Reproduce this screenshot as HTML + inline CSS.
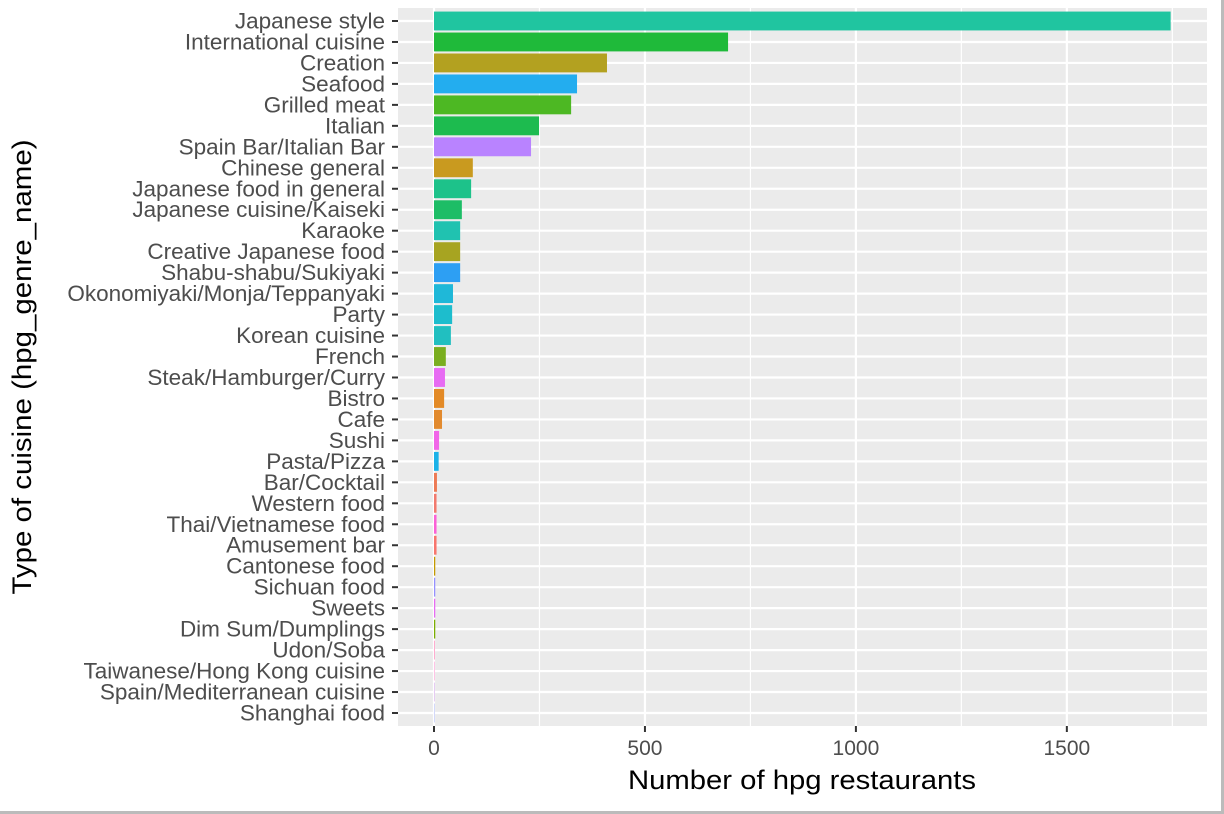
<!DOCTYPE html>
<html><head><meta charset="utf-8"><style>
body{margin:0;background:#fff;}
svg{display:block;font-family:"Liberation Sans",sans-serif;}
</style></head><body>
<svg id="chart" width="1224" height="814">
<rect x="0" y="0" width="1224" height="814" fill="#fff"/>
<line x1="1222.5" y1="0" x2="1222.5" y2="814" stroke="#bbb" stroke-width="3"/>
<line x1="0" y1="812.5" x2="1224" y2="812.5" stroke="#bbb" stroke-width="3"/>
<rect x="398" y="8" width="809" height="718" fill="#EBEBEB"/>
<g id="grid"></g><g id="bars"></g><g id="yaxis"></g><g id="xaxis"></g>
<text x="802" y="789" font-size="27" text-anchor="middle" fill="#000" textLength="348" lengthAdjust="spacingAndGlyphs">Number of hpg restaurants</text>
<text transform="translate(31,367) rotate(-90)" font-size="27" text-anchor="middle" fill="#000" textLength="455" lengthAdjust="spacingAndGlyphs">Type of cuisine (hpg_genre_name)</text>
</svg>
<script>
const categories=["Japanese style","International cuisine","Creation","Seafood","Grilled meat","Italian","Spain Bar/Italian Bar","Chinese general","Japanese food in general","Japanese cuisine/Kaiseki","Karaoke","Creative Japanese food","Shabu-shabu/Sukiyaki","Okonomiyaki/Monja/Teppanyaki","Party","Korean cuisine","French","Steak/Hamburger/Curry","Bistro","Cafe","Sushi","Pasta/Pizza","Bar/Cocktail","Western food","Thai/Vietnamese food","Amusement bar","Cantonese food","Sichuan food","Sweets","Dim Sum/Dumplings","Udon/Soba","Taiwanese/Hong Kong cuisine","Spain/Mediterranean cuisine","Shanghai food"];
const values=[1746,697,410,339,325,249,230,92,88,66,62,62,62,45,43,40,28,26,24,19,12,11,7,6,6,6,3,3,3,3,2,1,1,1];
const colors=["#20C5A0","#1FBA3A","#B3A120","#23ADEF","#4DB823","#1DBB4F","#B983FF","#C99A1F","#1DC28A","#1DBD66","#20C2B0","#A7A421","#2D9FF3","#1FB8D8","#1DBDCD","#21BFC0","#7AAE1F","#E76BF3","#E38A26","#E28A2E","#F166E8","#1BB2E8","#ED7A54","#F27A6E","#FB61D7","#F8766D","#C49A00","#9590FF","#E76BF3","#7CAE00","#FF9DC8","#FFB6E0","#E0C0F0","#C8D0F8"];
const xTicks=[0,500,1000,1500];
const NS="http://www.w3.org/2000/svg";
const x=v=>434+v*0.4219;
const y=i=>21+i*(713-21)/(categories.length-1);
function mk(tag,attrs,parent){const e=document.createElementNS(NS,tag);for(const k in attrs)e.setAttribute(k,attrs[k]);parent.appendChild(e);return e;}
const grid=document.getElementById('grid'),bars=document.getElementById('bars'),ya=document.getElementById('yaxis'),xa=document.getElementById('xaxis');
const bw=(y(1)-y(0))*0.9;
[250,750,1250,1750].forEach(v=>{const l=mk('line',{x1:x(v),x2:x(v),y1:8,y2:726,stroke:'#fff','stroke-width':1.2},grid);

});
xTicks.forEach(v=>{const l=mk('line',{x1:x(v),x2:x(v),y1:8,y2:726,stroke:'#fff','stroke-width':2.2},grid);


const t=mk('line',{x1:x(v),x2:x(v),y1:726,y2:732,stroke:'#333','stroke-width':2},xa);


const tx=mk('text',{x:x(v),y:755,'font-size':21,'text-anchor':'middle',fill:'#4D4D4D'},xa);tx.textContent=v;

});
categories.forEach((c,i)=>{const yy=y(i);
const g=mk('line',{x1:398,x2:1207,y1:yy,y2:yy,stroke:'#fff','stroke-width':2.2},grid);


const r=mk('rect',{x:x(0),y:yy-bw/2,width:Math.max(0.8,x(values[i])-x(0)),height:bw,fill:colors[i]},bars);


const t=mk('line',{x1:392,x2:398,y1:yy,y2:yy,stroke:'#333','stroke-width':2},ya);


const tx=mk('text',{x:385,y:yy+7.5,'font-size':22.5,'text-anchor':'end',fill:'#4D4D4D'},ya);tx.textContent=c;

});
</script>
</body></html>
